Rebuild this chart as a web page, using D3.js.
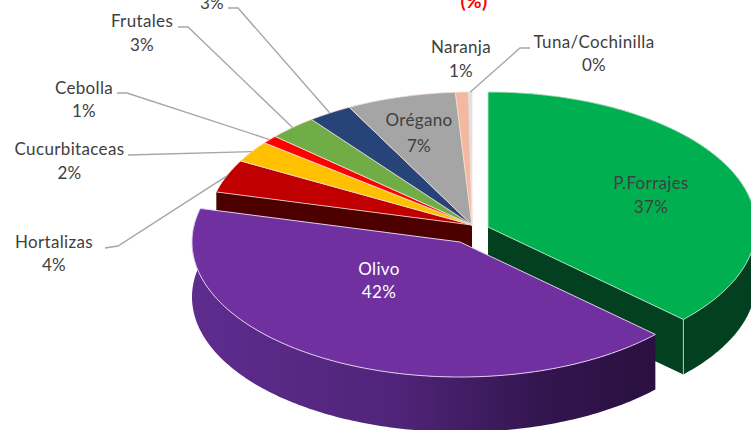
<!DOCTYPE html>
<html>
<head>
<meta charset="utf-8">
<script src="https://cdn.jsdelivr.net/npm/d3@7"></script>
<style>
  html, body { margin: 0; padding: 0; background: #fff; overflow: hidden; }
  text { font-family: Lato, "Open Sans", sans-serif; font-size: 17px; letter-spacing: 0.35px; fill: #404040; }
</style>
</head>
<body>
<div id="chart"></div>
<script>
// values (slices run clockwise from 12 o'clock)
var names = ["P.Forrajes", "Olivo", "Hortalizas", "Cucurbitaceas", "Cebolla", "Frutales", "", "Orégano", "Naranja", "Tuna/Cochinilla"];
var shares = [37, 42, 4, 2.6, 1, 3, 2.7, 6.7, 0.8, 0.2];
var pctLabels = ["37%", "42%", "4%", "2%", "1%", "3%", "3%", "7%", "1%", "0%"];
var colors = ["#00b050", "#7030a0", "#c00000", "#ffc000", "#ff0000", "#70ad47", "#264478", "#a5a5a5", "#f2b8a0", "#d5e3ef"];
var titleTail = "(%)";

var width = 751;
var height = 430;

var svg = d3.select("#chart").append("svg")
  .attr("width", width)
  .attr("height", height)
  .style("display", "block");

// purple wall gets darker towards the right
var grad = svg.append("defs").append("linearGradient")
  .attr("id", "olivoWall")
  .attr("gradientUnits", "userSpaceOnUse")
  .attr("x1", 192).attr("x2", 655).attr("y1", 0).attr("y2", 0);
grad.append("stop").attr("offset", "0").attr("stop-color", "#5f2c8f");
grad.append("stop").attr("offset", "0.45").attr("stop-color", "#4f2478");
grad.append("stop").attr("offset", "0.75").attr("stop-color", "#33154f");
grad.append("stop").attr("offset", "1").attr("stop-color", "#2a1040");

// tilted pie, the small slices at the back come out a bit smaller
var rx = 268, ry = 135, depth = 55;
var center = { forrajes: [488, 227], olivo: [460, 242], rest: [472, 225] };
var restScale = 0.985;

var slices = d3.pie().sort(null).value(d => d)(shares);

function point(c, a, dy, k) {
  k = k || 1;
  return [c[0] + k * rx * Math.sin(a), c[1] - k * ry * Math.cos(a) + (dy || 0)];
}
function arcPoints(c, a0, a1, dy, k) {
  var n = Math.max(2, Math.ceil((a1 - a0) * 60));
  return d3.range(n + 1).map(i => point(c, a0 + (a1 - a0) * i / n, dy, k));
}
var line = d3.line();

function topPath(c, s, k) {
  return line([c].concat(arcPoints(c, s.startAngle, s.endAngle, 0, k))) + "Z";
}
function rimPath(c, s) {
  return line(arcPoints(c, s.startAngle, s.endAngle)
    .concat(arcPoints(c, s.startAngle, s.endAngle, depth).reverse())) + "Z";
}
function sidePath(c, a, k) {
  var p = point(c, a, 0, k);
  return line([c, p, [p[0], p[1] + depth], [c[0], c[1] + depth]]) + "Z";
}

// back group first: all the small slices
var rest = slices.slice(2);
svg.append("path")
  .attr("d", sidePath(center.rest, rest[0].startAngle, restScale))
  .attr("fill", "#4d0000");
svg.selectAll(".rest")
  .data(rest)
  .enter()
  .append("path")
  .attr("class", "rest")
  .attr("d", d => topPath(center.rest, d, restScale))
  .attr("fill", (d, i) => colors[i + 2])
  .attr("stroke", "#f3ddd6")
  .attr("stroke-width", 0.8)
  .attr("stroke-linejoin", "round");

// P.Forrajes
var fo = slices[0];
var foEnd = point(center.forrajes, fo.endAngle);
svg.append("path").attr("d", sidePath(center.forrajes, fo.endAngle)).attr("fill", "#03401f");
svg.append("path").attr("d", rimPath(center.forrajes, fo)).attr("fill", "#03401f");
svg.append("path")
  .attr("d", topPath(center.forrajes, fo))
  .attr("fill", colors[0])
  .attr("stroke", "#b5e3c6")
  .attr("stroke-width", 0.9);
svg.append("line")
  .attr("x1", foEnd[0]).attr("x2", foEnd[0])
  .attr("y1", foEnd[1]).attr("y2", foEnd[1] + depth)
  .attr("stroke", "#b5e3c6")
  .attr("stroke-width", 0.9);

// Olivo sits in front of everything
var ol = slices[1];
svg.append("path").attr("d", rimPath(center.olivo, ol)).attr("fill", "url(#olivoWall)");
svg.append("path")
  .attr("d", topPath(center.olivo, ol))
  .attr("fill", colors[1])
  .attr("stroke", "#e2cdf0")
  .attr("stroke-width", 1);

// labels: [name index, x, y of first line, y of second line, fill]
var labelPos = [
  [0, 651, 189, 213, "#404040"],
  [1, 379, 275, 298, "#ffffff"],
  [2, 54, 248, 271, "#404040"],
  [3, 69.5, 155, 179, "#404040"],
  [4, 84, 94, 117, "#404040"],
  [5, 142, 27, 51, "#404040"],
  [7, 419, 126, 152, "#404040"],
  [8, 461, 53, 77, "#404040"],
  [9, 594, 48, 71, "#404040"]
];
labelPos.forEach(function(l) {
  svg.append("text").attr("x", l[1]).attr("y", l[2])
    .attr("text-anchor", "middle").style("fill", l[4]).text(names[l[0]]);
  svg.append("text").attr("x", l[1]).attr("y", l[3])
    .attr("text-anchor", "middle").style("fill", l[4]).text(pctLabels[l[0]]);
});
// this one lost its name where the picture is cropped
svg.append("text").attr("x", 212).attr("y", 9).attr("text-anchor", "middle").text(pctLabels[6]);
svg.append("text").attr("x", 474).attr("y", 8).attr("text-anchor", "middle")
  .style("fill", "#ff0000").style("font-weight", "bold").style("font-size", "19px").text(titleTail);

// leader lines: [slice index, start, elbow], they end on the slice rim
var leaders = [
  [2, [105, 248], [118, 246]],
  [3, [128, 155], [128, 155]],
  [4, [117, 93], [127, 93]],
  [5, [178, 27], [188, 27]],
  [6, [228, 8], [238, 8]],
  [9, [530, 48], [520, 48]]
];
leaders.forEach(function(l) {
  var s = slices[l[0]];
  var end = point(center.rest, (s.startAngle + s.endAngle) / 2, 0, restScale);
  svg.append("path")
    .attr("d", line([l[1], l[2], end]))
    .attr("fill", "none")
    .attr("stroke", "#a6a6a6")
    .attr("stroke-width", 1.4);
});
</script>
</body>
</html>
